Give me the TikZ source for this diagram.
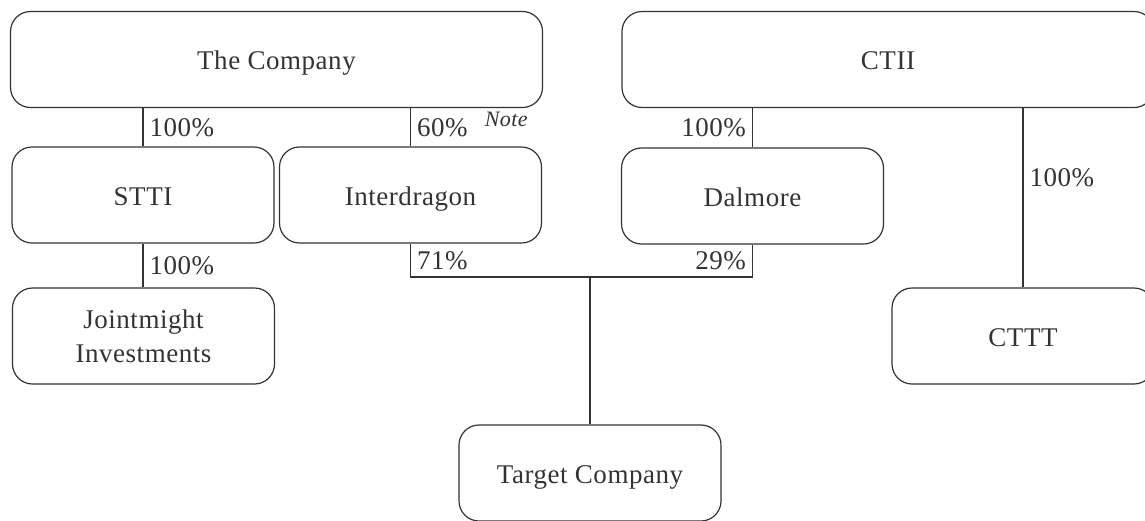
\documentclass[tikz,border=0pt]{standalone}
\usepackage{fontspec}
\setmainfont[LetterSpace=2]{Liberation Serif}
\definecolor{ink}{HTML}{333333}
\begin{document}
\begin{tikzpicture}[x=0.5pt, y=-0.5pt, line width=0.6pt, color=ink,
  font=\fontsize{13.5}{17}\selectfont,
  box/.style={draw, rounded corners=10pt, minimum width=131pt, minimum height=48pt, align=center, inner sep=0pt, text height=11pt, text depth=1pt},
  widebox/.style={box, minimum width=266pt},
  pct/.style={inner sep=3pt},
  note/.style={inner sep=0pt, font=\fontsize{11}{11}\selectfont\itshape}]
  \useasboundingbox (0,0) rectangle (1145,520);
  % boxes
  \node[widebox] (company) at (276.5,59.5) {The Company};
  \node[widebox] (ctii) at (888,59.5) {CTII};
  \node[box] (stti) at (143,195) {STTI};
  \node[box] (inter) at (410.5,195) {Interdragon};
  \node[box] (dalmore) at (752.5,196) {Dalmore};
  \node[box, text height=, text depth=] (joint) at (143.5,336) {Jointmight\\Investments};
  \node[box] (cttt) at (1023,336) {CTTT};
  \node[box] (target) at (590,473) {Target Company};
  \coordinate (bus) at (590,277);
  % holdings
  \draw (company.south -| stti.north) -- node[pct, right] {100\%} (stti.north);
  \draw (company.south -| inter.north) -- node[pct, right] (sixty) {60\%} (inter.north);
  \node[note, anchor=base west] (fn) at ([xshift=5pt, yshift=5pt]sixty.base east) {Note};
  \draw (ctii.south -| dalmore.north) -- node[pct, left] {100\%} (dalmore.north);
  \draw (ctii.south -| cttt.north) -- node[pct, right, pos=0.39] {100\%} (cttt.north);
  \draw (stti.south) -- node[pct, right] {100\%} (stti.south |- joint.north);
  \draw (inter.south) -- node[pct, right] {71\%} (inter.south |- bus)
    -- (dalmore.south |- bus) -- node[pct, left] {29\%} (dalmore.south);
  \draw (target.north) -- (target.north |- bus);
\end{tikzpicture}
\end{document}
